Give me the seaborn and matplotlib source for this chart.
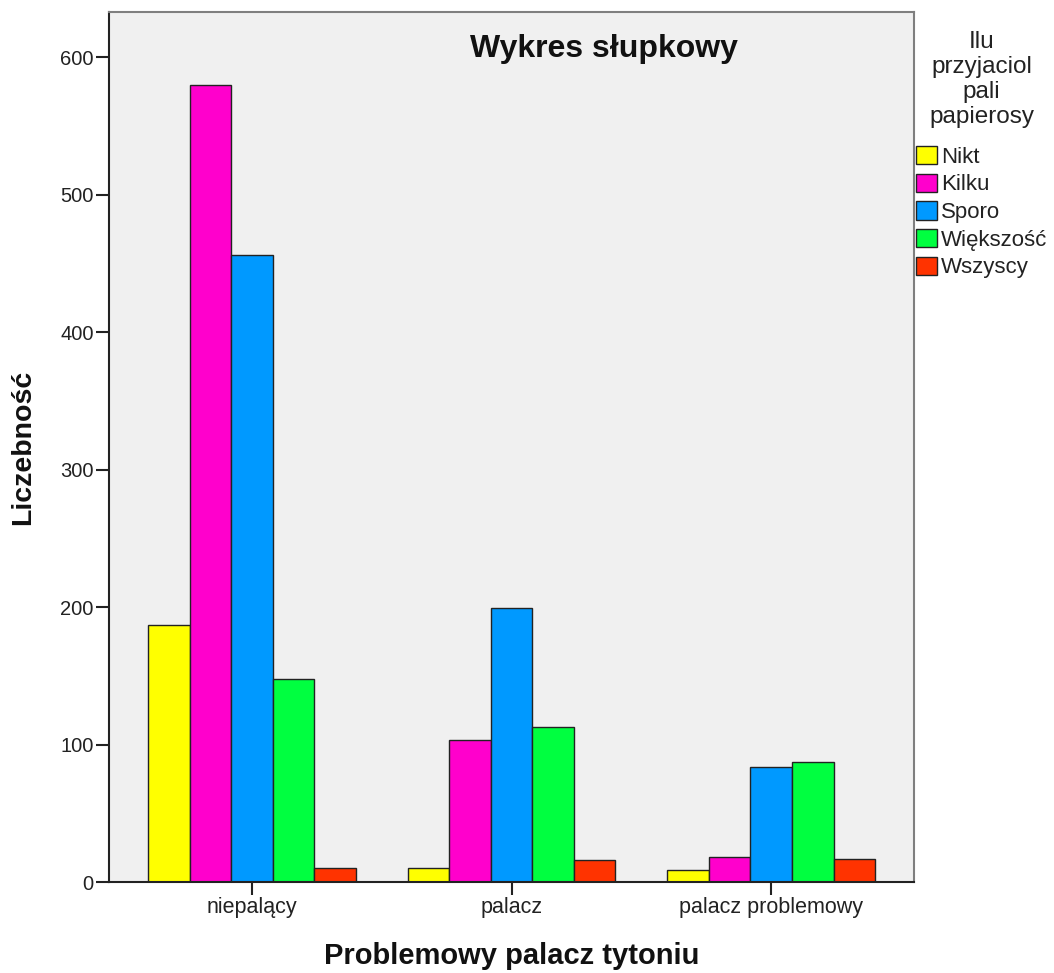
import matplotlib
matplotlib.use('Agg')
import matplotlib.pyplot as plt
import seaborn as sns
import pandas as pd

sns.set_theme(style='white')
plt.rcParams['font.family'] = ['Liberation Sans', 'DejaVu Sans']

# data
groups = ['niepalący', 'palacz', 'palacz problemowy']
friends = ['Nikt', 'Kilku', 'Sporo', 'Większość', 'Wszyscy']
nikt = [187, 10, 9]
kilku = [580, 103, 18]
sporo = [456, 199, 84]
wiekszosc = [148, 113, 87]
wszyscy = [10, 16, 17]
colors = ['#FFFF00', '#FF00CC', '#0099FF', '#00FF40', '#FF3300']

rows = []
for name, vals in zip(friends, [nikt, kilku, sporo, wiekszosc, wszyscy]):
    for g, v in zip(groups, vals):
        rows.append({'grupa': g, 'przyjaciele': name, 'n': v})
df = pd.DataFrame(rows)

fig = plt.figure(figsize=(10.54, 9.73), dpi=100)
ax = fig.add_axes([109 / 1054, 1 - 882 / 973, (914 - 109) / 1054, (882 - 12) / 973])
ax.set_facecolor('#F0F0F0')

sns.barplot(data=df, x='grupa', y='n', hue='przyjaciele', order=groups,
            hue_order=friends, palette=colors, edgecolor='#222222',
            linewidth=1.0, width=0.8, saturation=1, ax=ax)

ax.set_ylim(0, 633)
ax.set_xlim(-0.55, 2.55)
ax.set_yticks(range(0, 601, 100))
ax.tick_params(axis='both', direction='out', length=9.5, width=1.5,
               color='#222222', labelcolor='#222222', left=True, bottom=True)
ax.tick_params(axis='y', labelsize=14.5, pad=1.5)
ax.tick_params(axis='x', labelsize=15.5, pad=1.5)

for side in ['left', 'bottom']:
    ax.spines[side].set_color('#222222')
    ax.spines[side].set_linewidth(1.5)
for side in ['top', 'right']:
    ax.spines[side].set_color('#7F7F7F')
    ax.spines[side].set_linewidth(1.5)

ax.set_xlabel('Problemowy palacz tytoniu', fontsize=21, fontweight='bold',
              color='#111111', labelpad=17)
ax.set_ylabel('Liczebność', fontsize=20.5, fontweight='bold', color='#111111',
              labelpad=17)
ax.text(0.615, 0.958, 'Wykres słupkowy', transform=ax.transAxes, ha='center',
        va='center', fontsize=23, fontweight='bold', color='#111111')

leg = ax.legend(title='Ilu\nprzyjaciol\npali\npapierosy', loc='upper left',
                bbox_to_anchor=(1.002, 0.978), frameon=False, fontsize=16,
                title_fontsize=17.5, handlelength=0.95, handleheight=0.9,
                handletextpad=0.2, labelspacing=0.26, borderaxespad=0,
                borderpad=0)
leg.get_title().set_multialignment('center')
leg.get_title().set_linespacing(1.17)
leg.get_title().set_color('#222222')
leg._legend_box.sep = 13
for t in leg.get_texts():
    t.set_color('#222222')

fig.savefig('out.png', dpi=100, facecolor='white')
